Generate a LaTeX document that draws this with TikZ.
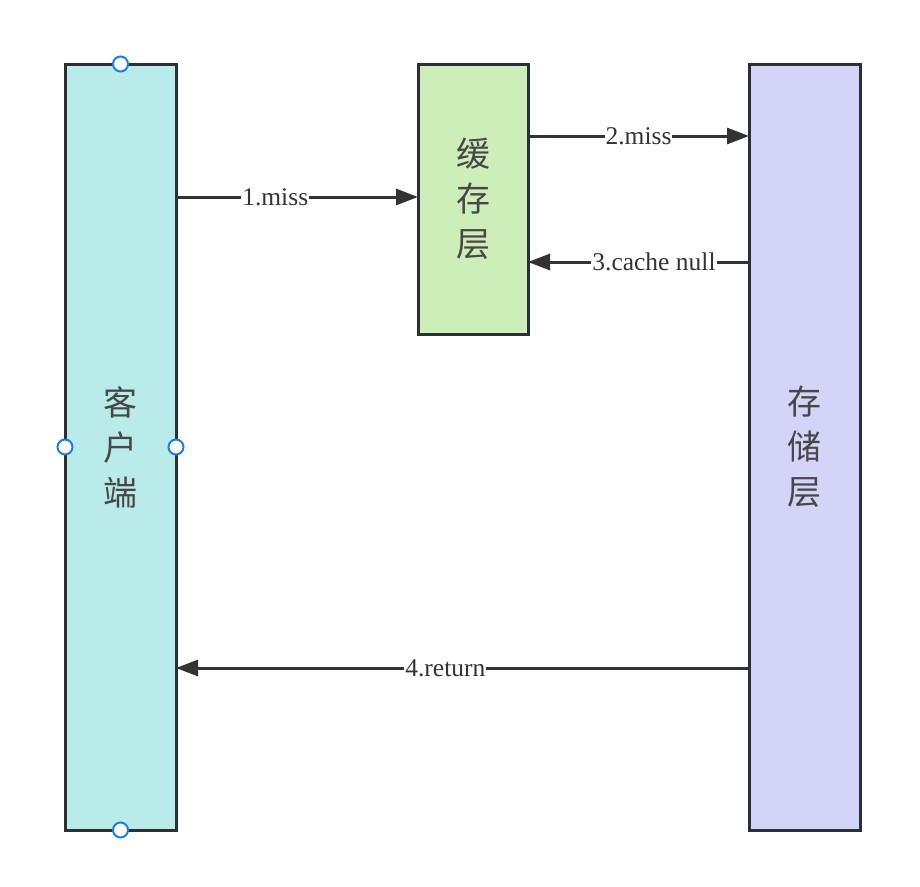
\documentclass[tikz,border=0pt]{standalone}
\usepackage{fontspec}
\setmainfont{Liberation Serif}
\newfontfamily\cjk{Noto Sans CJK SC}
\usepackage{xcolor}
\definecolor{edge}{HTML}{2B2F36}
\definecolor{ink}{HTML}{333333}
\definecolor{clientfill}{HTML}{B9EBEB}
\definecolor{cachefill}{HTML}{CDEEB9}
\definecolor{storefill}{HTML}{D3D4F7}
\definecolor{handle}{HTML}{1E7BEA}
\usepackage{tikz}
\usetikzlibrary{arrows.meta, positioning}

\begin{document}
\begin{tikzpicture}[x=1pt, y=1pt,
    lane/.style={rectangle, draw=edge, line width=3pt, align=center,
                 font=\cjk\fontsize{34}{45}\selectfont, text=ink!90,
                 inner sep=0pt, outer sep=0pt},
    a/.style={-{Triangle[length=22pt, width=16pt]}, draw=ink, line width=3pt},
    lbl/.style={fill=white, text=ink, inner sep=1pt,
                font=\fontsize{25.5}{28}\selectfont},
    hnd/.style={circle, draw=handle, fill=white, line width=2pt,
                minimum size=15pt, inner sep=0pt}]
  \useasboundingbox (0,0) rectangle (920,-886);
  \node[lane, fill=clientfill, minimum width=111pt, minimum height=766pt]
    (client) at (120.5,-447) {客\\户\\端};
  \node[lane, fill=cachefill, minimum width=110pt, minimum height=270pt]
    (cache) at (473,-199) {缓\\存\\层};
  \node[lane, fill=storefill, minimum width=111pt, minimum height=766pt]
    (store) at (804.5,-447) {存\\储\\层};
  % requests and replies
  \draw[a] ([yshift=-133pt]client.north east) -- ([yshift=-133pt]cache.north west)
    node[lbl, pos=0.41] {1.miss};
  \draw[a] ([yshift=-72pt]cache.north east) -- ([yshift=-72pt]store.north west)
    node[lbl, midway] {2.miss};
  \draw[a] ([yshift=-198pt]store.north west) -- ([yshift=-198pt]cache.north east)
    node[lbl, pos=0.43] {3.cache null};
  \draw[a] ([yshift=-604pt]store.north west) -- ([yshift=-604pt]client.north east)
    node[lbl, pos=0.53] {4.return};
  % selection handles
  \node[hnd] (hn) at (client.north) {};
  \node[hnd] (hs) at (client.south) {};
  \node[hnd] (hw) at (client.west) {};
  \node[hnd] (he) at (client.east) {};
\end{tikzpicture}
\end{document}
